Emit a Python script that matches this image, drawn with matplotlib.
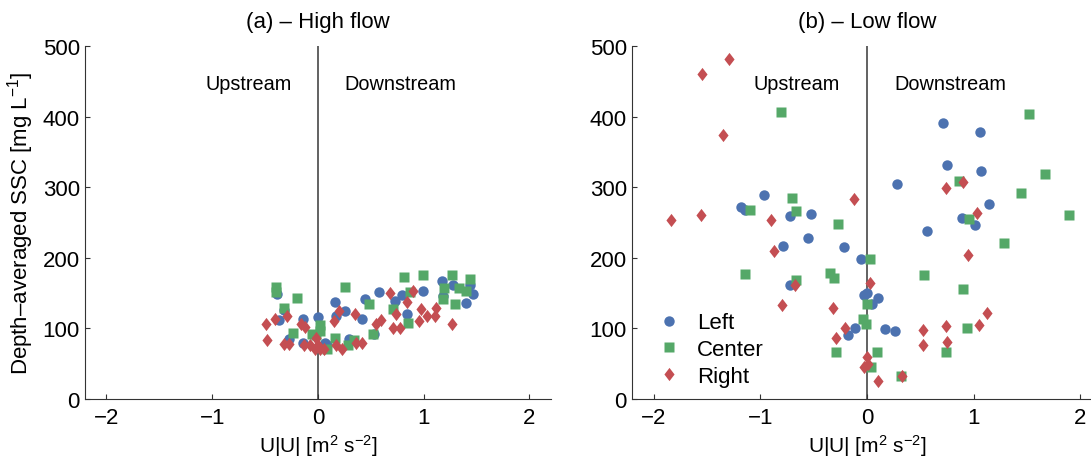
import matplotlib
matplotlib.use('Agg')
import matplotlib.pyplot as plt

plt.rcParams['font.family'] = ['Liberation Sans', 'DejaVu Sans']
plt.rcParams['mathtext.fontset'] = 'custom'
plt.rcParams['mathtext.rm'] = 'Liberation Sans'
plt.rcParams['mathtext.it'] = 'Liberation Sans:italic'
plt.rcParams['axes.unicode_minus'] = True

# colores (seaborn deep)
c_left, c_center, c_right = '#4C72B0', '#55A868', '#C44E52'

# (a) High flow
a_left_x = [-0.39, -0.32, -0.37, -0.27, -0.14, -0.14, 0.00, 0.07, 0.09, 0.16, 0.17, 0.26, 0.29,
            0.44, 0.42, 0.53, 0.58, 0.73, 0.79, 0.84, 0.99, 1.17, 1.28, 1.18, 1.44, 1.47, 1.40]
a_left_y = [149, 126, 112, 85, 113, 80, 116, 79, 76, 137, 118, 124, 85,
            141, 114, 92, 152, 139, 148, 120, 153, 167, 161, 146, 161, 149, 136]

a_center_x = [-0.40, -0.40, -0.20, -0.32, -0.24, -0.06, 0.02, 0.02, 0.16, 0.09, 0.26, 0.48, 0.52,
              0.28, 0.34, 0.81, 0.99, 0.71, 0.87, 0.85, 1.27, 1.44, 1.19, 1.18, 1.33, 1.40, 1.30, -0.02]
a_center_y = [158, 151, 143, 129, 93, 92, 105, 97, 86, 71, 159, 135, 92,
              76, 83, 173, 176, 127, 151, 108, 175, 170, 157, 142, 157, 153, 135, 90]

a_right_x = [-0.49, -0.48, -0.41, -0.29, -0.32, -0.27, -0.16, -0.12, -0.13, -0.08, -0.02, 0.00,
             -0.03, 0.02, 0.06, 0.15, 0.20, 0.17, 0.23, 0.35, 0.36, 0.42, 0.55, 0.60, 0.68, 0.74,
             0.71, 0.78, 0.84, 0.90, 0.96, 0.97, 1.03, 1.11, 1.12, 1.27]
a_right_y = [106, 84, 114, 117, 78, 78, 106, 102, 76, 76, 87, 76,
             71, 71, 71, 110, 125, 76, 71, 121, 79, 79, 106, 112, 150, 121,
             101, 101, 138, 153, 111, 127, 118, 117, 129, 106]

# (b) Low flow
b_left_x = [-0.97, -1.18, -1.14, -0.72, -0.53, -0.55, -0.79, -0.22, -0.06, -0.72, -0.03, 0.00,
            -0.11, -0.18, 0.10, 0.05, 0.71, 1.06, 0.75, 1.07, 0.28, 1.14, 0.89, 1.01, 0.56, 0.17, 0.26]
b_left_y = [289, 272, 268, 259, 262, 228, 217, 216, 198, 161, 148, 150,
            101, 90, 143, 134, 391, 378, 331, 323, 304, 276, 256, 246, 238, 99, 97]

b_center_x = [-0.81, -0.70, -0.67, -1.10, -0.27, -1.14, 0.03, -0.67, -0.35, -0.31, 0.00, -0.04,
              -0.01, -0.29, 0.04, 0.09, 1.52, 1.67, 1.44, 0.86, 1.89, 0.96, 1.28, 0.53, 0.90,
              0.94, 0.74, 0.32]
b_center_y = [406, 285, 267, 268, 248, 177, 198, 168, 178, 171, 134, 114,
              106, 67, 46, 66, 403, 319, 292, 309, 261, 255, 221, 175, 156,
              101, 67, 33]

b_right_x = [-1.55, -1.29, -1.35, -1.84, -1.56, -0.90, -0.12, -0.87, -0.68, -0.80, -0.32, -0.21,
             -0.29, 0.03, 0.00, -0.03, 0.01, 0.10, 0.74, 0.90, 1.03, 0.95, 0.52, 0.52, 0.74,
             0.75, 1.05, 1.12, 0.33]
b_right_y = [460, 481, 374, 254, 260, 254, 284, 210, 161, 133, 129, 101,
             86, 164, 60, 45, 50, 26, 299, 308, 264, 204, 98, 77, 104,
             81, 105, 122, 33]

paneles = [
    ('(a) \u2013 High flow', a_left_x, a_left_y, a_center_x, a_center_y, a_right_x, a_right_y),
    ('(b) \u2013 Low flow', b_left_x, b_left_y, b_center_x, b_center_y, b_right_x, b_right_y),
]
posiciones = [[0.0782, 0.1304, 0.4265, 0.7674], [0.5796, 0.1304, 0.4303, 0.7674]]

# rombo un poco mas ancho que 'd'
rombo = [(0, 1), (0.77, 0), (0, -1), (-0.77, 0), (0, 1)]

fig = plt.figure(figsize=(10.91, 4.6), dpi=100)
fs = 16

for i, (titulo, lx, ly, cx, cy, rx, ry) in enumerate(paneles):
    ax = fig.add_axes(posiciones[i])
    ax.plot(lx, ly, 'o', color=c_left, ms=7.5, mec='none', label='Left')
    ax.plot(cx, cy, 's', color=c_center, ms=6.5, mec='none', label='Center')
    ax.plot(rx, ry, marker=rombo, ls='none', color=c_right, ms=9.5, mec='none', label='Right')
    ax.plot([0, 0], [0, 500], color='#555555', lw=1.3, zorder=1)
    ax.text(-0.66, 439, 'Upstream', ha='center', va='baseline', fontsize=14.3)
    ax.text(0.78, 439, 'Downstream', ha='center', va='baseline', fontsize=14.3)

    ax.set_xlim(-2.2, 2.2)
    ax.set_ylim(0, 500)
    ax.set_xticks([-2, -1, 0, 1, 2])
    ax.set_yticks([0, 100, 200, 300, 400, 500])
    ax.tick_params(direction='in', length=3.5, width=0.8, labelsize=fs, color='#333333')
    ax.tick_params(axis='x', pad=6)
    ax.tick_params(axis='y', pad=4)
    for lado in ['top', 'right']:
        ax.spines[lado].set_visible(False)
    for lado in ['left', 'bottom']:
        ax.spines[lado].set_color('#333333')
        ax.spines[lado].set_linewidth(0.8)

    ax.set_title(titulo, fontsize=fs, pad=14)
    ax.set_xlabel(r'U|U| [m$^2$ s$^{-2}$]', fontsize=15, labelpad=3)
    if i == 0:
        ax.set_ylabel('Depth\u2013averaged SSC [mg L$^{-1}$]', fontsize=fs, labelpad=5)
    else:
        ax.legend(loc='lower left', bbox_to_anchor=(0.055, 0.034), frameon=False, fontsize=fs,
                  handlelength=1.0, handletextpad=0.76, borderpad=0, borderaxespad=0,
                  labelspacing=0.26)

fig.savefig('out.png', dpi=100)
